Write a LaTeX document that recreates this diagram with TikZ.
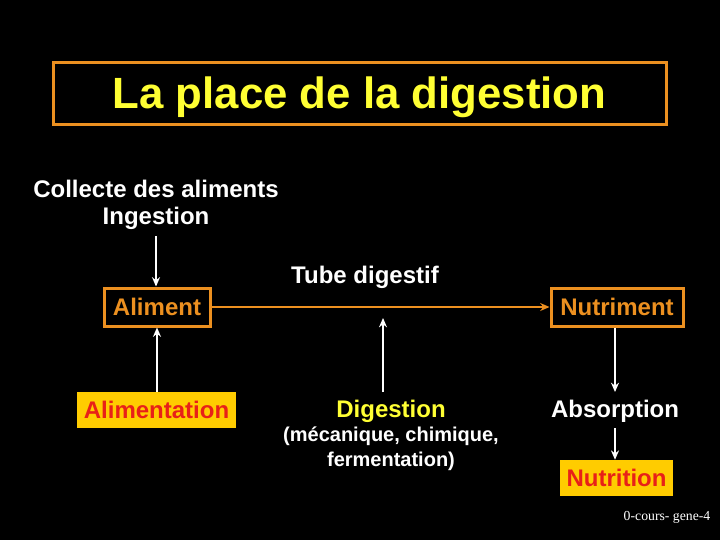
\documentclass[tikz,border=0pt]{standalone}
\usepackage{fontspec}
\setmainfont{Liberation Sans}
\newfontfamily\footfont{Liberation Serif}
\usetikzlibrary{arrows.meta}
\definecolor{borange}{HTML}{EC9020}
\definecolor{tyellow}{HTML}{FFFF33}
\definecolor{fyellow}{HTML}{FFCC00}
\definecolor{tred}{HTML}{E82018}
\begin{document}
\begin{tikzpicture}[x=0.75pt,y=-0.75pt,
  txt/.style={text=white,font=\fontsize{18}{20}\selectfont\bfseries,inner sep=0pt},
  small/.style={text=white,font=\fontsize{15}{17}\selectfont\bfseries,inner sep=0pt},
  obox/.style={draw=borange,line width=2.25pt,text=borange,font=\fontsize{18}{20}\selectfont\bfseries,inner sep=0pt},
  ybox/.style={fill=fyellow,text=tred,font=\fontsize{18}{20}\selectfont\bfseries,inner sep=0pt},
  arr/.style={draw=white,line width=1.5pt,-{Stealth[length=7pt,width=6pt]}},
  oline/.style={draw=borange,line width=1.5pt,-{Stealth[length=7pt,width=6pt]}}]
\fill[black] (0,0) rectangle (720,540);
\useasboundingbox (0,0) rectangle (720,540);
\node[draw=borange,line width=2.25pt,minimum width=459.75pt,minimum height=46.5pt,inner sep=0pt,text depth=0pt,
  text=tyellow,font=\fontsize{32.8}{36}\selectfont\bfseries] (title) at (359.5,93) {La place de la digestion};
\node[txt] (coll) at (156,189) {Collecte des aliments};
\node[txt] (ing) at (156,218) {Ingestion};
\node[obox,minimum width=79.5pt,minimum height=28.5pt] (alim) at (157,307) {Aliment};
\node[obox,minimum width=99pt,minimum height=28.5pt] (nutr) at (617,307) {Nutriment};
\node[txt] (tube) at (365,277) {Tube digestif};
\node[ybox,minimum width=119.25pt,minimum height=27pt] (alimt) at (156.5,410) {Alimentation};
\node[txt,text=tyellow] (dig) at (391,411) {Digestion};
\node[small] (meca) at (391,436) {(mécanique, chimique,};
\node[small] (ferm) at (391,461) {fermentation)};
\node[txt] (abs) at (615,411) {Absorption};
\node[ybox,minimum width=84.75pt,minimum height=27pt] (nutri) at (616.5,478) {Nutrition};
\node[text=white,inner sep=0pt,font=\footfont\fontsize{10.3}{12}\selectfont] (foot) at (667,517) {0-cours- gene-4};
\coordinate (ingend) at (156,236);
\coordinate (digbot) at (383,392);
\coordinate (digtop) at (383,318);
\coordinate (absin) at (615,392);
\coordinate (absbot) at (615,428);
\draw[arr] (ingend) -- (ingend |- alim.north);
\draw[arr] (alimt.north -| alim.south) -- (alim.south);
\draw[oline] (alim.east) -- (nutr.west);
\draw[arr] (digbot) -- (digtop);
\draw[arr] (nutr.south -| absin) -- (absin);
\draw[arr] (absbot) -- (nutri.north -| absbot);
\end{tikzpicture}
\end{document}
